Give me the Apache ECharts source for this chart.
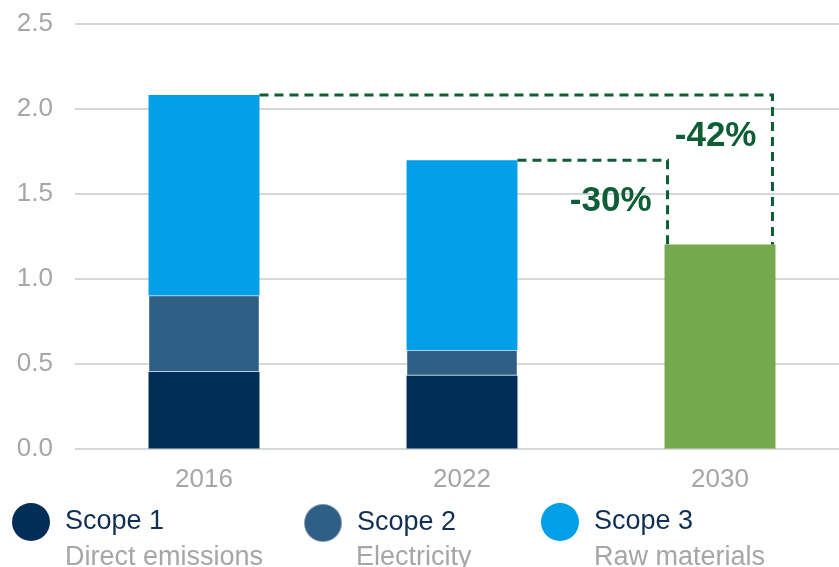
<!DOCTYPE html>
<html>
<head>
<meta charset="utf-8">
<script src="https://cdn.jsdelivr.net/npm/echarts@6/dist/echarts.min.js"></script>
<style>
html,body{margin:0;padding:0;background:#fff;}
#main{width:839px;height:567px;}
</style>
</head>
<body>
<div id="main"></div>
<script>
var years = ['2016', '2022', '2030'];
var scope1 = [0.45, 0.43, null];
var scope2 = [0.45, 0.15, null];
var scope3 = [1.18, 1.115, null];
var target = [null, null, 1.2];
var yTicks = [0, 0.5, 1.0, 1.5, 2.0, 2.5];
var legendNames = ['Scope 1', 'Scope 2', 'Scope 3'];
var legendSubs = ['Direct emissions', 'Electricity', 'Raw materials'];
// [from index, from total, to index, to total, label]
var cuts = [
	[0, 2.08, 2, 1.2, '-42%'],
	[1, 1.695, 2, 1.2, '-30%']
];

var chart = echarts.init(document.getElementById('main'));
var font = 'Liberation Sans, Arial, sans-serif';
var grey = '#a6a6a6';
var navy = '#0f2f57';
var green = '#0d5e35';
var barPct = 0.43;

function cutLine(params, api){
	var a = api.coord([api.value(0), api.value(1)]);
	var b = api.coord([api.value(2), api.value(3)]);
	var band = api.size([1, 0])[0];
	var half = band * barPct / 2;
	var x0 = a[0] + half;
	// longer cut goes to the right edge of the target bar, shorter to the left edge
	var x1 = params.dataIndex == 0 ? b[0] + half - 3 : b[0] - half + 3;
	return {
		type: 'group',
		children: [{
			type: 'polyline',
			shape: {points: [[x0, a[1]], [x1, a[1]], [x1, b[1]]]},
			style: {stroke: green, lineWidth: 3, lineDash: [9, 6], fill: null}
		}, {
			type: 'text',
			style: {
				text: api.value(4),
				x: x1 - 16, y: a[1] + 41,
				align: 'right', verticalAlign: 'middle',
				font: 'bold 35px ' + font,
				fill: green
			}
		}]
	};
}

var legends = [];
var subs = [];
var legendLeft = [12, 303, 541];
legendNames.forEach(function(n, i){
	legends.push({
		data: [n],
		left: legendLeft[i], top: 503,
		padding: 0,
		icon: 'circle',
		itemWidth: 38, itemHeight: 38,
		selectedMode: false,
		formatter: '{a|{name}}',
		textStyle: {
			rich: {a: {fontFamily: font, fontSize: 27, color: navy, padding: [0, 0, 0, 10]}}
		}
	});
	subs.push({
		type: 'text',
		left: legendLeft[i] + 53, top: 544,
		style: {text: legendSubs[i], fill: grey, font: '27px ' + font}
	});
});

var option = {
	animation: false,
	grid: {left: 75, right: -10, top: 23.5, bottom: 118.5, outerBoundsMode: 'none', containLabel: false},
	legend: legends,
	graphic: subs,
	xAxis: {
		type: 'category',
		data: years,
		axisLine: {show: false},
		axisTick: {show: false},
		axisLabel: {color: grey, fontSize: 26, fontFamily: font, margin: 18}
	},
	yAxis: {
		type: 'value',
		min: yTicks[0], max: yTicks[yTicks.length - 1], interval: 0.5,
		axisLabel: {
			color: grey, fontSize: 26, fontFamily: font, margin: 22,
			formatter: function(v){ return v.toFixed(1); }
		},
		splitLine: {lineStyle: {color: '#d5d8d9', width: 2}}
	},
	series: [
		{name: 'Scope 1', type: 'bar', stack: 'tot', data: scope1, barWidth: '43%',
			itemStyle: {color: '#002e56'}},
		{name: 'Scope 2', type: 'bar', stack: 'tot', data: scope2,
			itemStyle: {color: '#2f5f85', borderColor: 'rgba(255,255,255,0.35)', borderWidth: 1}},
		{name: 'Scope 3', type: 'bar', stack: 'tot', data: scope3,
			itemStyle: {color: '#009fe8'}},
		{name: 'Target 2030', type: 'bar', stack: 'tot', data: target,
			itemStyle: {color: '#75a94e'}},
		{type: 'custom', renderItem: cutLine, data: cuts, z: 5, silent: true}
	]
};
chart.setOption(option);
</script>
</body>
</html>
